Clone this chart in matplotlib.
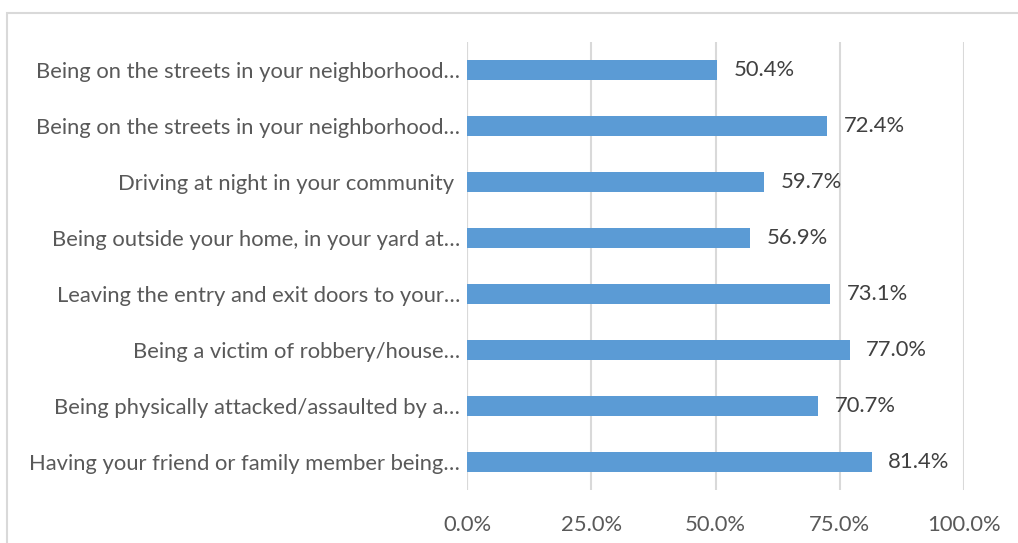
import matplotlib
matplotlib.use("Agg")
import matplotlib.pyplot as plt
from matplotlib.patches import Rectangle

categories = [
    "Being on the streets in your neighborhood…",
    "Being on the streets in your neighborhood…",
    "Driving at night in your community ",
    "Being outside your home, in your yard at…",
    "Leaving the entry and exit doors to your…",
    "Being a victim of robbery/house…",
    "Being physically attacked/assaulted by a…",
    "Having your friend or family member being…",
]
values = [50.4, 72.4, 59.7, 56.9, 73.1, 77.0, 70.7, 81.4]
x_ticks = [0, 25, 50, 75, 100]
x_tick_labels = ["0.0%", "25.0%", "50.0%", "75.0%", "100.0%"]

BAR_COLOR = "#5B9BD5"
GRID_COLOR = "#D9D9D9"
AXIS_TEXT = "#595959"
LABEL_TEXT = "#404040"
FONT = ["Lato", "DejaVu Sans"]
FS = 15.8

W, H = 1018, 543
fig = plt.figure(figsize=(W / 100, H / 100), dpi=100)

# chart area border (runs past the right and bottom edges)
fig.patches.append(Rectangle((7 / W, -0.2), 1.2, 1.2 - 13 / H, transform=fig.transFigure,
                             fill=False, edgecolor=GRID_COLOR, linewidth=1.5))

left, right = 467 / W, 964 / W
bottom, top = 1 - 490 / H, 1 - 42 / H
ax = fig.add_axes([left, bottom, right - left, top - bottom])

n = len(categories)
ypos = list(range(n))
ax.barh(ypos, values, height=0.36, color=BAR_COLOR, zorder=3)

ax.set_xlim(0, 100)
ax.set_ylim(n - 0.5, -0.5)
ax.set_xticks(x_ticks)
ax.set_xticklabels(x_tick_labels)
ax.set_yticks(ypos)
ax.set_yticklabels(categories)

for lbl in ax.get_xticklabels() + ax.get_yticklabels():
    lbl.set_family(FONT)
    lbl.set_fontsize(FS)
    lbl.set_color(AXIS_TEXT)

ax.tick_params(axis="both", length=0)
ax.tick_params(axis="y", pad=5)
ax.tick_params(axis="x", pad=18)

ax.grid(axis="x", color=GRID_COLOR, linewidth=1.5, zorder=0)
for s in ax.spines.values():
    s.set_visible(False)
ax.axvline(0, color=GRID_COLOR, linewidth=1.5, zorder=1)

for y, v in zip(ypos, values):
    ax.annotate(f"{v:.1f}%", xy=(v, y), xytext=(12, 0), textcoords="offset points",
                va="center", ha="left", fontsize=FS, color=LABEL_TEXT, family=FONT)

fig.savefig("out.png", dpi=100)
